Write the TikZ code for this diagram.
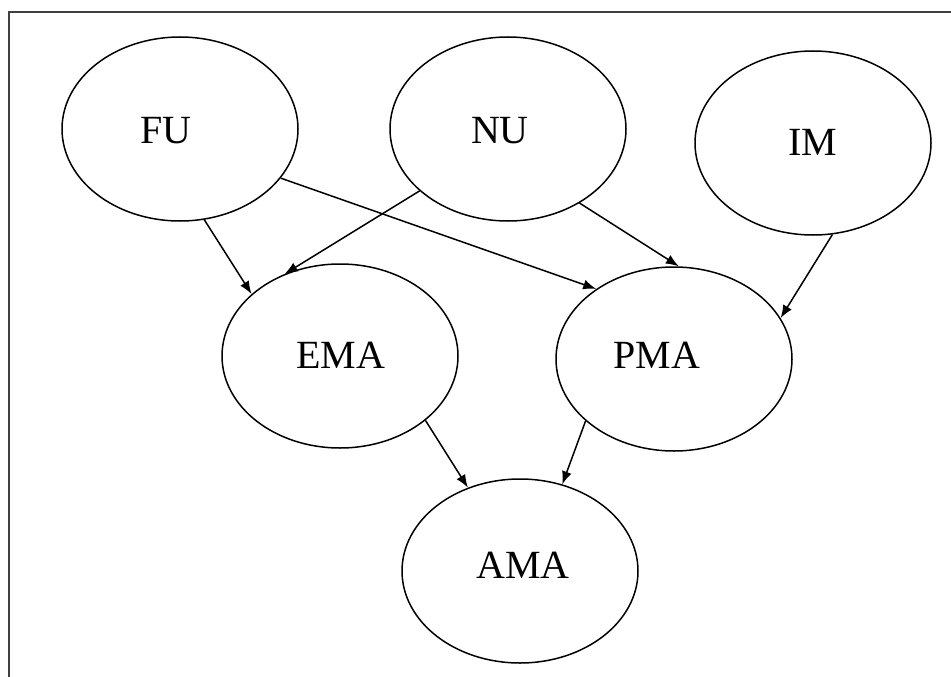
\documentclass[tikz,border=0pt]{standalone}
\usepackage{fontspec}
\setmainfont{Liberation Serif}
\usetikzlibrary{shapes.geometric,arrows.meta}
\begin{document}
\begin{tikzpicture}[x=1pt,y=-1pt,
  ell/.style={ellipse,draw=black,line width=1.5pt,inner sep=0pt,minimum width=236pt,minimum height=184pt},
  lbl/.style={inner sep=0pt,font=\fontsize{40}{48}\selectfont},
  conn/.style={line width=1.5pt,-{Latex[length=13pt,width=10pt]}},
  frame/.style={draw=black!75,line width=2.2pt}]
\useasboundingbox (0,0) rectangle (951,677);
\coordinate (f1) at (9,677);
\coordinate (f2) at (9,12);
\coordinate (f3) at (951,12);
\draw[frame] (f1) -- (f2) -- (f3);
\node[ell] (FU) at (180,129) {};
\node[ell] (NU) at (508,129) {};
\node[ell] (IM) at (813,143) {};
\node[ell] (EMA) at (340,356) {};
\node[ell] (PMA) at (674,359) {};
\node[ell] (AMA) at (520,571) {};
\node[lbl] (FUt) at (166,131) {FU};
\node[lbl] (NUt) at (500,131) {NU};
\node[lbl] (IMt) at (813,142) {IM};
\node[lbl] (EMAt) at (341,355) {EMA};
\node[lbl] (PMAt) at (657,355) {PMA};
\node[lbl] (AMAt) at (523,565) {AMA};
\draw[conn] (FU.-75.7) -- (EMA.145.5);
\draw[conn] (FU.-26.3) -- (PMA.138.3);
\draw[conn] (NU.215.4) -- (EMA.124.3);
\draw[conn] (NU.-46.5) -- (PMA.87.4);
\draw[conn] (IM.-78.1) -- (PMA.21.3);
\draw[conn] (EMA.-37.5) -- (AMA.122.7);
\draw[conn] (PMA.215.6) -- (AMA.64.9);
\end{tikzpicture}
\end{document}
